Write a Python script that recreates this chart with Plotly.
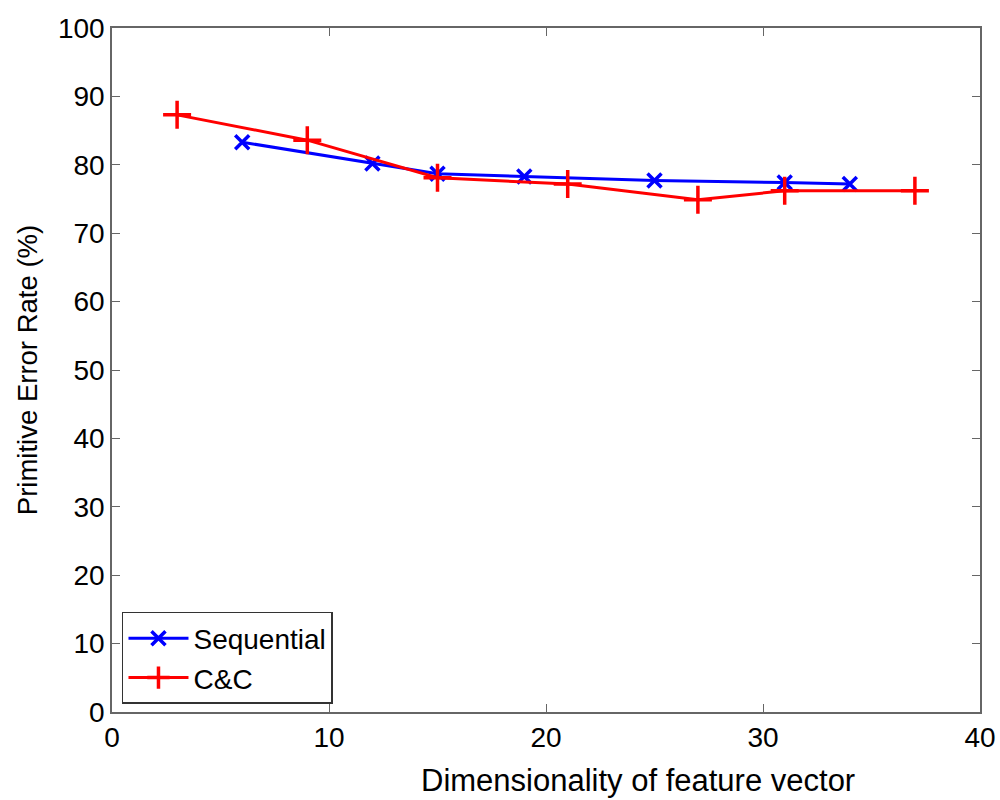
import plotly.graph_objects as go

seq_x = [6, 12, 15, 19, 25, 31, 34]
seq_y = [83.3, 80.2, 78.7, 78.3, 77.7, 77.4, 77.2]
cc_x = [3, 9, 15, 21, 27, 31, 37]
cc_y = [87.3, 83.6, 78.1, 77.2, 74.9, 76.2, 76.2]

x_ticks = [0, 10, 20, 30, 40]
y_ticks = [0, 10, 20, 30, 40, 50, 60, 70, 80, 90, 100]

FONT = "Liberation Sans, Arial, sans-serif"

fig = go.Figure()
fig.add_trace(go.Scatter(
    x=seq_x, y=seq_y, name="Sequential", mode="lines+markers",
    line=dict(color="#0000ff", width=3),
    marker=dict(symbol="x-thin", size=14, line=dict(color="#0000ff", width=3.5)),
))
fig.add_trace(go.Scatter(
    x=cc_x, y=cc_y, name="C&C", mode="lines+markers",
    line=dict(color="#ff0000", width=3),
    marker=dict(symbol="cross-thin", size=20, line=dict(color="#ff0000", width=3.5)),
))

axis_common = dict(
    showline=True, mirror="ticks", linecolor="#666666", linewidth=1.5,
    ticks="inside", ticklen=8, tickcolor="#666666", showgrid=False, zeroline=False,
    tickfont=dict(family=FONT, size=28, color="black"), automargin=False,
)

fig.update_layout(
    width=1000, height=800,
    paper_bgcolor="white", plot_bgcolor="white",
    margin=dict(l=112, r=20, t=28, b=88),
    xaxis=dict(range=[0, 40], tickvals=x_ticks, **axis_common),
    yaxis=dict(range=[0, 100], tickvals=y_ticks,
               title=dict(text="Primitive Error Rate (%)", standoff=12,
                          font=dict(family=FONT, size=27.5, color="black")),
               **axis_common),
    legend=dict(x=0.0115, y=0.0117, xanchor="left", yanchor="bottom",
                bgcolor="white", bordercolor="#333333", borderwidth=1.5,
                font=dict(family=FONT, size=28, color="black"),
                tracegroupgap=0, itemwidth=60),
    showlegend=True,
    annotations=[dict(
        text="Dimensionality of feature vector", xref="paper", yref="paper",
        x=0.606, y=-0.1, xanchor="center", yanchor="middle", showarrow=False,
        font=dict(family=FONT, size=31, color="black"),
    )],
)

fig.write_html("out.html")
